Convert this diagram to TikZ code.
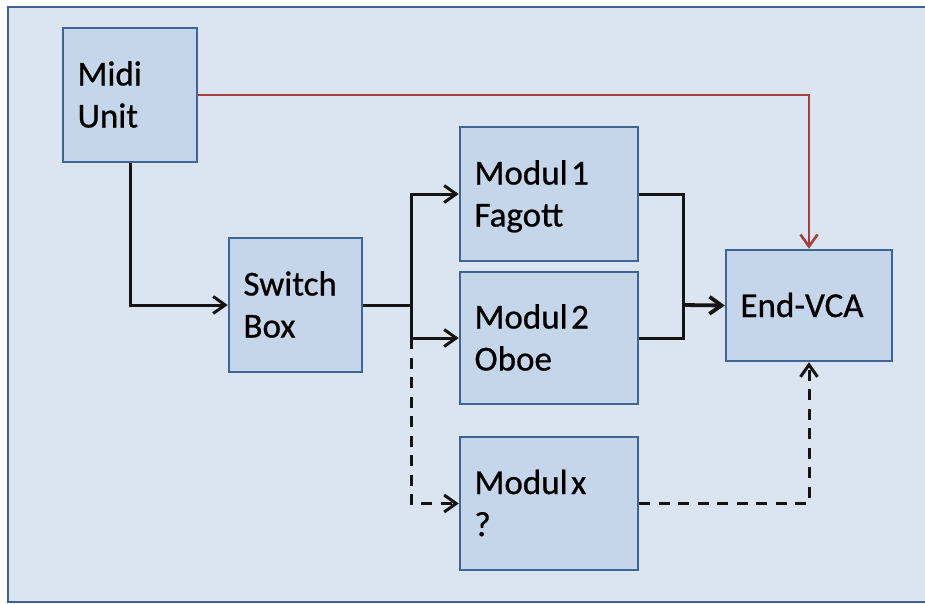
\documentclass[tikz,border=0pt]{standalone}
\usepackage{fontspec}
\setmainfont[FakeBold=0.7]{Carlito}
\usetikzlibrary{arrows.meta}
\definecolor{bgc}{HTML}{DBE5F1}
\definecolor{boxfill}{HTML}{C5D6EA}
\definecolor{boxline}{HTML}{3F6596}
\definecolor{framec}{HTML}{3D6193}
\definecolor{redc}{HTML}{A33F3C}
\newcommand\lstrut{\rule[-9pt]{0pt}{41pt}}
\newcommand\nsp{\hspace{3.5pt}}
\begin{document}
\begin{tikzpicture}[x=1pt,y=-1pt,
  box/.style={draw=boxline, fill=boxfill, line width=2.5pt, inner xsep=14.5pt, inner ysep=0pt,
    align=left, font=\fontsize{35}{42}\selectfont},
  plain/.style={line width=3pt, draw=black!92},
  conn/.style={plain, -{Straight Barb[length=12pt,width=17pt]}},
  dsh/.style={dash pattern=on 11pt off 8.5pt}]
\useasboundingbox (0,0) rectangle (925,603);
\clip (0,0) rectangle (925,603);
\fill[white] (0,0) rectangle (925,603);
\draw[draw=framec, line width=2.5pt, fill=bgc] (8,7) rectangle (940,602);

\node[box, minimum width=134pt, minimum height=134pt, text width=105pt] (midi) at (130,95) {\lstrut Midi\\\lstrut Unit};
\node[box, minimum width=133pt, minimum height=134pt, text width=104pt] (switch) at (295.5,305) {\lstrut Switch\\\lstrut Box};
\node[box, minimum width=178pt, minimum height=134pt, text width=149pt] (m1) at (549,194) {\lstrut Modul\nsp1\\\lstrut Fagott};
\node[box, minimum width=178pt, minimum height=132pt, text width=149pt] (m2) at (549,338) {\lstrut Modul\nsp2\\\lstrut Oboe};
\node[box, minimum width=178pt, minimum height=133pt, text width=149pt] (mx) at (549,503.5) {\lstrut Modul\nsp x\\\lstrut ?};
\node[box, minimum width=166pt, minimum height=111pt, text width=137pt] (vca) at (809,305.5) {\lstrut End-VCA};

\coordinate (br) at (411,305);
\coordinate (jx) at (683,305);

\draw[conn] (midi.south) |- (switch.west);
\draw[conn, draw=redc, line width=2.6pt] (midi.east) -| (vca.north);
\draw[plain] (switch.east) -- (br);
\draw[conn] (br) |- (m1.west);
\draw[conn] (br) |- (m2.west);
\draw[conn, dsh] (br |- m2.west) |- (mx.west);
\draw[plain] (m1.east) -| (jx) |- (m2.east);
\draw[conn, line width=3.8pt] (jx) -- (vca.west);
\draw[conn, dsh] (mx.east) -| (vca.south);
\end{tikzpicture}
\end{document}
